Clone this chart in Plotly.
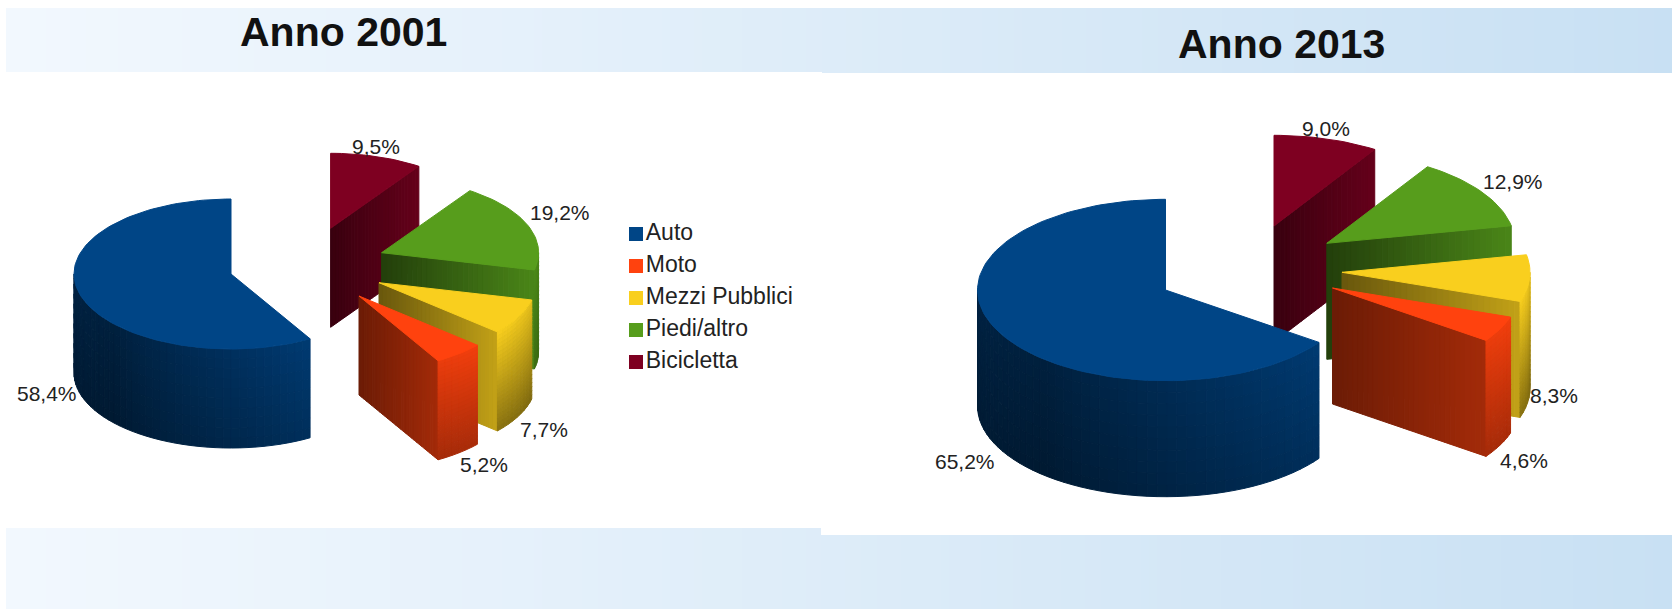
import math
import plotly.graph_objects as go

# ---- data ----
categories = ["Auto", "Moto", "Mezzi Pubblici", "Piedi/altro", "Bicicletta"]
values_2001 = [58.4, 5.2, 7.7, 19.2, 9.5]
values_2013 = [65.2, 4.6, 8.3, 12.9, 9.0]
titles = ["Anno 2001", "Anno 2013"]

# ---- styles ----
colors = ["#004586", "#ff420e", "#f9cf1e", "#579d1c", "#7e0021"]
cut_shade = [(.4, .7), (.42, .64), (.42, .78), (.4, .85), (.45, .8)]
arc_shade = [(.5, .85), (.92, .95), (1.0, .92), (.88, .85), (.5, .5)]
arc_fall = [.2, .3, .45, .2, 0]

# ---- layout (pixel-like axis units) ----
W, H = 1672, 609
pie_left = dict(rx=157, ry=75, depth=99, centers=[(231, 274), (359, 296), (379, 282.7), (381.6, 252.7), (330.6, 228.3)],
                label_pos=[(47, 393), (484, 464), (544, 429), (560, 212), (376, 146)], title_pos=(343, 32))
pie_right = dict(rx=188, ry=90.7, depth=116, centers=[(1165.5, 290), (1332.5, 288), (1342, 272.3), (1326.8, 243.3), (1274, 226)],
                 label_pos=[(965, 461), (1524, 460), (1554, 395), (1513, 181), (1326, 128)], title_pos=(1281, 44))
legend_x, legend_y0, legend_gap = 636, 234, 32

fig = go.Figure()


def hex_rgb(c):
    return tuple(int(c[i:i + 2], 16) for i in (1, 3, 5))


def shade(c, f):
    r, g, b = hex_rgb(c)
    return f"rgb({round(r * f)},{round(g * f)},{round(b * f)})"


def poly(xs, ys, color, name=None):
    fig.add_trace(go.Scatter(x=list(xs) + [xs[0]], y=list(ys) + [ys[0]], mode="lines", fill="toself",
                             fillcolor=color, line=dict(color=color, width=1), hoverinfo="skip",
                             showlegend=False, name=name))


def pt(c, g, a):
    return c[0] + g["rx"] * math.cos(math.radians(a)), c[1] - g["ry"] * math.sin(math.radians(a))


def arc_base(i, t):
    if i == 0:
        return .5 - .04 * t / .35 if t < .35 else .46 + (t - .35) / .65 * .39
    return arc_shade[i][0] + (arc_shade[i][1] - arc_shade[i][0]) * t


def draw_pie(values, g):
    # angles: counter-clockwise from 12 o'clock, in the order of the categories
    angs, a = [], 90.0
    for v in values:
        angs.append((a, a + v * 3.6))
        a += v * 3.6
    d = g["depth"]
    for i in [4, 3, 2, 1, 0]:
        c = g["centers"][i]
        a0, a1 = angs[i]
        col = colors[i]
        # radial cut face
        cut = None
        if math.cos(math.radians(a0)) > 1e-3:
            cut = a0
        elif math.cos(math.radians(a1)) < -1e-3:
            cut = a1
        if cut is not None:
            ex, ey = pt(c, g, cut)
            n = 30
            for k in range(n):
                t0, t1 = k / n, (k + 1) / n
                x0, y0 = c[0] + (ex - c[0]) * t0, c[1] + (ey - c[1]) * t0
                x1, y1 = c[0] + (ex - c[0]) * t1, c[1] + (ey - c[1]) * t1
                f = cut_shade[i][0] + (cut_shade[i][1] - cut_shade[i][0]) * (t0 + t1) / 2
                poly([x0, x1, x1, x0], [y0, y1, y1 + d, y0 + d], shade(col, f))
        # outer wall: only the part of the rim facing the viewer
        lo, hi = max(a0, 180), min(a1, 360)
        if hi > lo:
            n = max(6, int((hi - lo) / 3))
            m = 24 if i else 10
            for k in range(n):
                b0 = lo + (hi - lo) * k / n
                b1 = lo + (hi - lo) * (k + 1) / n
                x0, y0 = pt(c, g, b0)
                x1, y1 = pt(c, g, b1)
                t = (k + .5) / n
                for j in range(m):
                    v0, v1 = d * j / m, d * (j + 1) / m
                    f = arc_base(i, t) * (1 - arc_fall[i] * (j + .5) / m)
                    poly([x0, x1, x1, x0], [y0 + v0, y1 + v0, y1 + v1, y0 + v1], shade(col, f))
        # top face
        n = max(6, int((a1 - a0) / 2))
        pts = [c] + [pt(c, g, a0 + (a1 - a0) * k / n) for k in range(n + 1)]
        poly([p[0] for p in pts], [p[1] for p in pts], col, categories[i])


draw_pie(values_2001, pie_left)
draw_pie(values_2013, pie_right)

# legend: square key and its label
for k, (name, col) in enumerate(zip(categories, colors)):
    fig.add_trace(go.Scatter(x=[legend_x], y=[legend_y0 + k * legend_gap], mode="markers+text", name=name,
                             text=[name], textposition="middle right", showlegend=False, hoverinfo="skip",
                             marker=dict(symbol="square", size=14, color=col),
                             textfont=dict(family="Liberation Sans", size=23, color="#222222")))

# percentage labels and titles
ann = []
for vals, g, title in ((values_2001, pie_left, titles[0]), (values_2013, pie_right, titles[1])):
    for v, (lx, ly) in zip(vals, g["label_pos"]):
        ann.append(dict(x=lx, y=ly, xref="x", yref="y", showarrow=False, text=f"{v:.1f}%".replace(".", ","),
                        font=dict(family="Liberation Sans", size=21, color="#222222")))
    ann.append(dict(x=g["title_pos"][0], y=g["title_pos"][1], xref="x", yref="y", showarrow=False, text=f"<b>{title}</b>",
                    font=dict(family="Liberation Sans", size=41, color="#111111")))

# banded backdrop: stepped rectangles approximating the slide's soft gradient
shapes = []


def band(x0, x1, y0, y1):
    step = 8
    x = x0
    while x < x1:
        t = (x - 6) / (W - 6)
        r = 242 + (200 - 242) * t
        g_ = 248 + (224 - 248) * t
        b = 254 + (243 - 254) * t
        shapes.append(dict(type="rect", layer="below", x0=x, x1=min(x + step, x1), y0=y0, y1=y1, xref="x", yref="y",
                           line=dict(width=0), fillcolor=f"rgb({r:.0f},{g_:.0f},{b:.0f})"))
        x += step


band(6, 822, 8, 72)
band(822, W, 8, 73)
band(6, 821, 528, H)
band(821, W, 535, H)

fig.update_layout(
    width=W, height=H, margin=dict(l=0, r=0, t=0, b=0), paper_bgcolor="white", plot_bgcolor="white",
    xaxis=dict(range=[0, W], visible=False, fixedrange=True),
    yaxis=dict(range=[H, 0], visible=False, fixedrange=True),
    showlegend=False, annotations=ann, shapes=shapes, hovermode=False,
)

fig.write_html("out.html", config={"displayModeBar": False},
               post_script="document.body.style.margin='0';document.documentElement.style.overflow='hidden';")
